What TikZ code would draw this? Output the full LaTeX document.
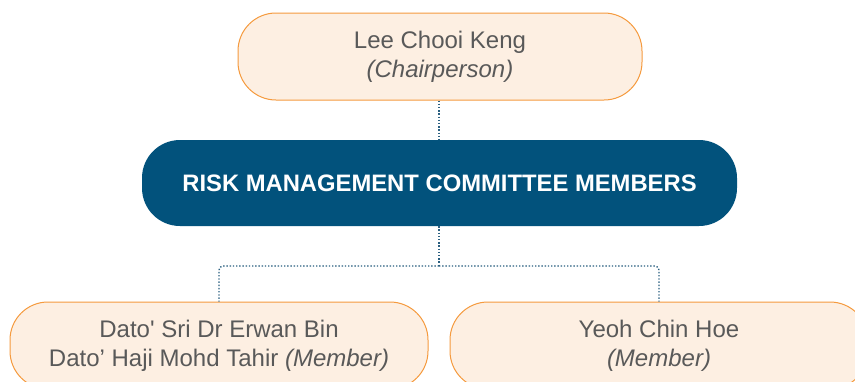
\documentclass[tikz,border=0pt]{standalone}
\usepackage{fontspec}
\setmainfont{Liberation Sans}[Ligatures=TeXOff]
\definecolor{peach}{HTML}{FDEFE2}
\definecolor{orangeline}{HTML}{F59A3E}
\definecolor{navy}{HTML}{02527C}
\definecolor{dotcol}{HTML}{2A5F80}
\definecolor{txt}{HTML}{595959}
\tikzset{
  personbox/.style={draw=orangeline, line width=1pt, fill=peach, rectangle, rounded corners=38pt,
    minimum width=#1, minimum height=87pt, align=center, text=txt,
    font=\fontsize{24}{29}\selectfont, inner sep=0pt},
  titlebox/.style={fill=navy, rectangle, rounded corners=38pt, minimum width=595pt, minimum height=86pt,
    text=white, font=\bfseries\fontsize{23.8}{28}\selectfont, inner sep=0pt},
  conn/.style={dotcol, line width=1.3pt, dash pattern=on 1.4pt off 1.8pt}
}
\begin{document}
\begin{tikzpicture}[x=1pt,y=-1pt]
\useasboundingbox (0,0) rectangle (855,381);
\clip (0,0) rectangle (855,381);
\node[personbox=404pt] (top) at (440,56.5) {Lee Chooi Keng\\\itshape (Chairperson)};
\node[titlebox] (mid) at (439.5,183) {RISK MANAGEMENT COMMITTEE MEMBERS};
\node[personbox=418pt] (left) at (219,345.5) {Dato' Sri Dr Erwan Bin\\Dato’ Haji Mohd Tahir \itshape(Member)};
\node[personbox=418pt] (right) at (659,345.5) {Yeoh Chin Hoe\\\itshape (Member)};
\coordinate (bus) at (439,266);
\draw[conn] (top.south -| bus) -- (mid.north -| bus);
\draw[conn] (mid.south -| bus) -- (bus);
\draw[conn, rounded corners=4pt] (bus) -| (left.north);
\draw[conn, rounded corners=4pt] (bus) -| (right.north);
\end{tikzpicture}
\end{document}
